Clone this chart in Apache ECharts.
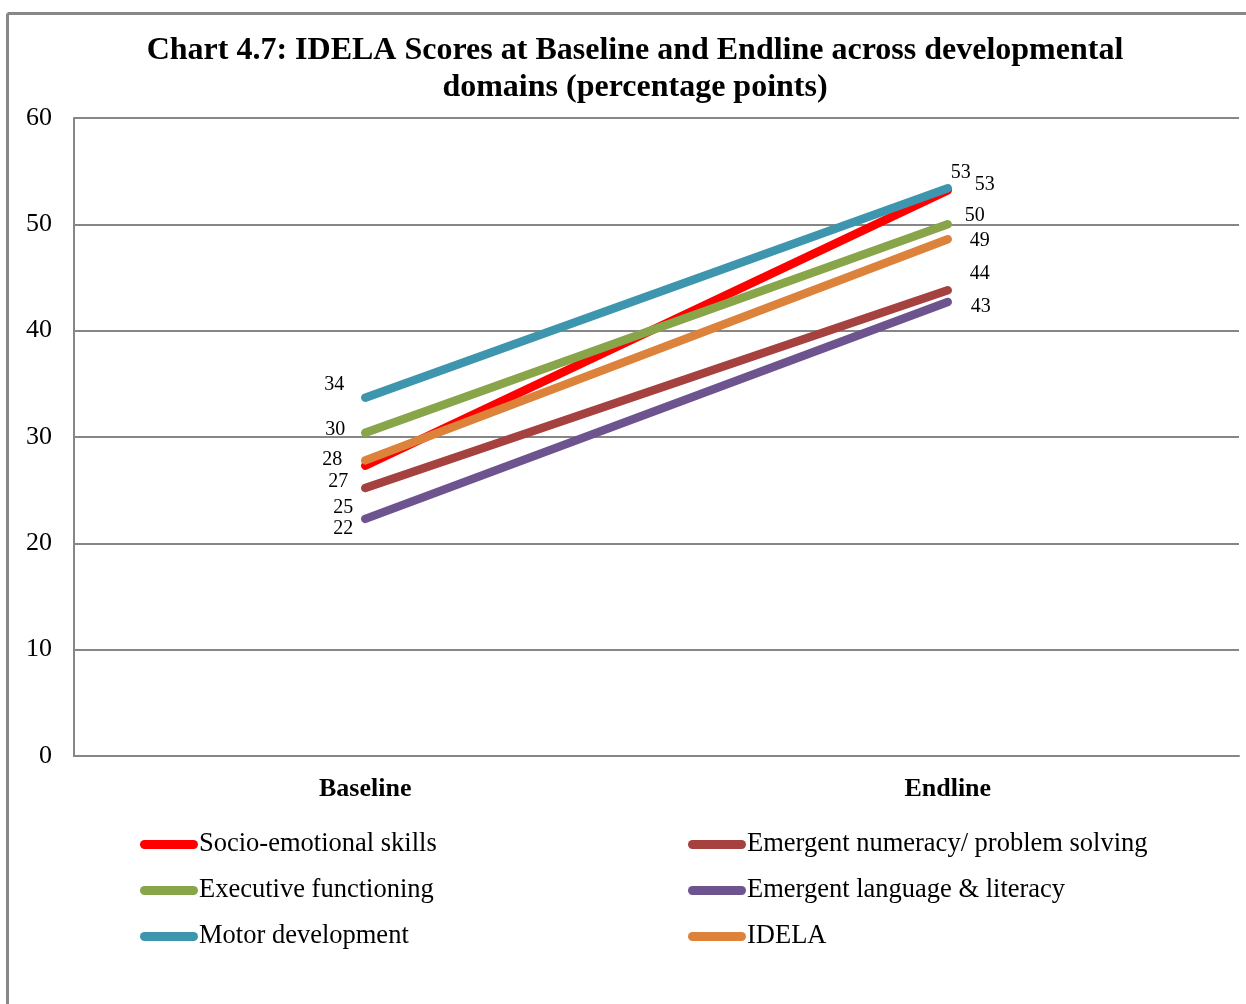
<!DOCTYPE html>
<html>
<head>
<meta charset="utf-8">
<script src="https://cdn.jsdelivr.net/npm/echarts@6/dist/echarts.min.js"></script>
<style>html,body{margin:0;padding:0;background:#fff;}#c{width:1246px;height:1004px;}</style>
</head>
<body>
<div id="c"></div>
<script>
var categories = ['Baseline', 'Endline'];
var seriesNames = ['Socio-emotional skills', 'Emergent numeracy/ problem solving', 'Executive functioning', 'Emergent language & literacy', 'Motor development', 'IDELA'];
var socioEmotional = [27.3, 53.2];
var numeracy = [25.2, 43.8];
var executive = [30.4, 50.0];
var language = [22.3, 42.7];
var motor = [33.7, 53.4];
var idela = [27.8, 48.6];
var yTicks = [0, 10, 20, 30, 40, 50, 60];

var values = [socioEmotional, numeracy, executive, language, motor, idela];
var colors = ['#FF0000', '#A5413F', '#88A54A', '#6E548F', '#3E95AE', '#DD823B'];
// label offsets in pixels [baseline, endline]
var labelOffsets = [
  [[-27, 16], [37, -6]],
  [[-22, 20], [32, -17]],
  [[-30, -3], [27, -9]],
  [[-22, 10], [33, 5]],
  [[-31, -13], [13, -15]],
  [[-33, -1], [32, 2]]
];
var serif = '"Liberation Serif", "DejaVu Serif", serif';

var series = seriesNames.map(function (name, i) {
  return {
    name: name,
    type: 'line',
    data: values[i].map(function (v, j) {
      return {
        value: v,
        label: { offset: labelOffsets[i][j] }
      };
    }),
    symbol: 'circle',
    symbolSize: 1,
    showSymbol: true,
    z: i === 4 ? 3 : 2,
    itemStyle: { color: colors[i] },
    lineStyle: { color: colors[i], width: 8.5, cap: 'round' },
    label: {
      show: true,
      position: 'inside',
      formatter: function (p) { return Math.round(p.value); },
      fontFamily: serif,
      fontSize: 20,
      color: '#000'
    },
    emphasis: { disabled: true },
    animation: false
  };
});

var legendCommon = {
  orient: 'vertical',
  itemWidth: 58,
  itemHeight: 9,
  itemGap: 19,
  icon: 'path://M4.5,0 H53.5 A4.5,4.5 0 0 1 53.5,9 H4.5 A4.5,4.5 0 0 1 4.5,0 Z',
  textStyle: { fontFamily: serif, fontSize: 26.5, color: '#000', padding: [0, 0, 0, -4] },
  selectedMode: false
};

var chart = echarts.init(document.getElementById('c'));
chart.setOption({
  animation: false,
  backgroundColor: '#fff',
  title: {
    text: 'Chart 4.7: IDELA Scores at Baseline and Endline across developmental\ndomains (percentage points)',
    left: 630,
    textAlign: 'center',
    top: 27,
    textStyle: { fontFamily: serif, fontSize: 32, fontWeight: 'bold', color: '#000', lineHeight: 37 }
  },
  graphic: [
    { type: 'line', shape: { x1: 7.5, y1: 13.5, x2: 1246, y2: 13.5 }, style: { stroke: '#888', lineWidth: 3 }, z: 100 },
    { type: 'line', shape: { x1: 7.5, y1: 13.5, x2: 7.5, y2: 1004 }, style: { stroke: '#888', lineWidth: 3 }, z: 100 }
  ],
  legend: [
    Object.assign({ left: 135, top: 826, data: [seriesNames[0], seriesNames[2], seriesNames[4]] }, legendCommon),
    Object.assign({ left: 683, top: 826, data: [seriesNames[1], seriesNames[3], seriesNames[5]] }, legendCommon)
  ],
  grid: { left: 74, right: 7, top: 118, bottom: 248, containLabel: false },
  xAxis: {
    type: 'category',
    data: categories,
    boundaryGap: true,
    axisLine: { show: true, lineStyle: { color: '#868686', width: 2 } },
    axisTick: { show: false },
    axisLabel: { fontFamily: serif, fontSize: 26, fontWeight: 'bold', color: '#000', margin: 20 }
  },
  yAxis: {
    type: 'value',
    min: 0,
    max: 60,
    interval: 10,
    axisLine: { show: true, lineStyle: { color: '#868686', width: 2 } },
    axisTick: { show: false },
    splitLine: { show: true, lineStyle: { color: '#868686', width: 2 } },
    axisLabel: {
      fontFamily: serif, fontSize: 26, color: '#000', margin: 22,
      formatter: function (v) { return yTicks.indexOf(v) >= 0 ? String(v) : ''; }
    }
  },
  series: series
});
</script>
</body>
</html>
